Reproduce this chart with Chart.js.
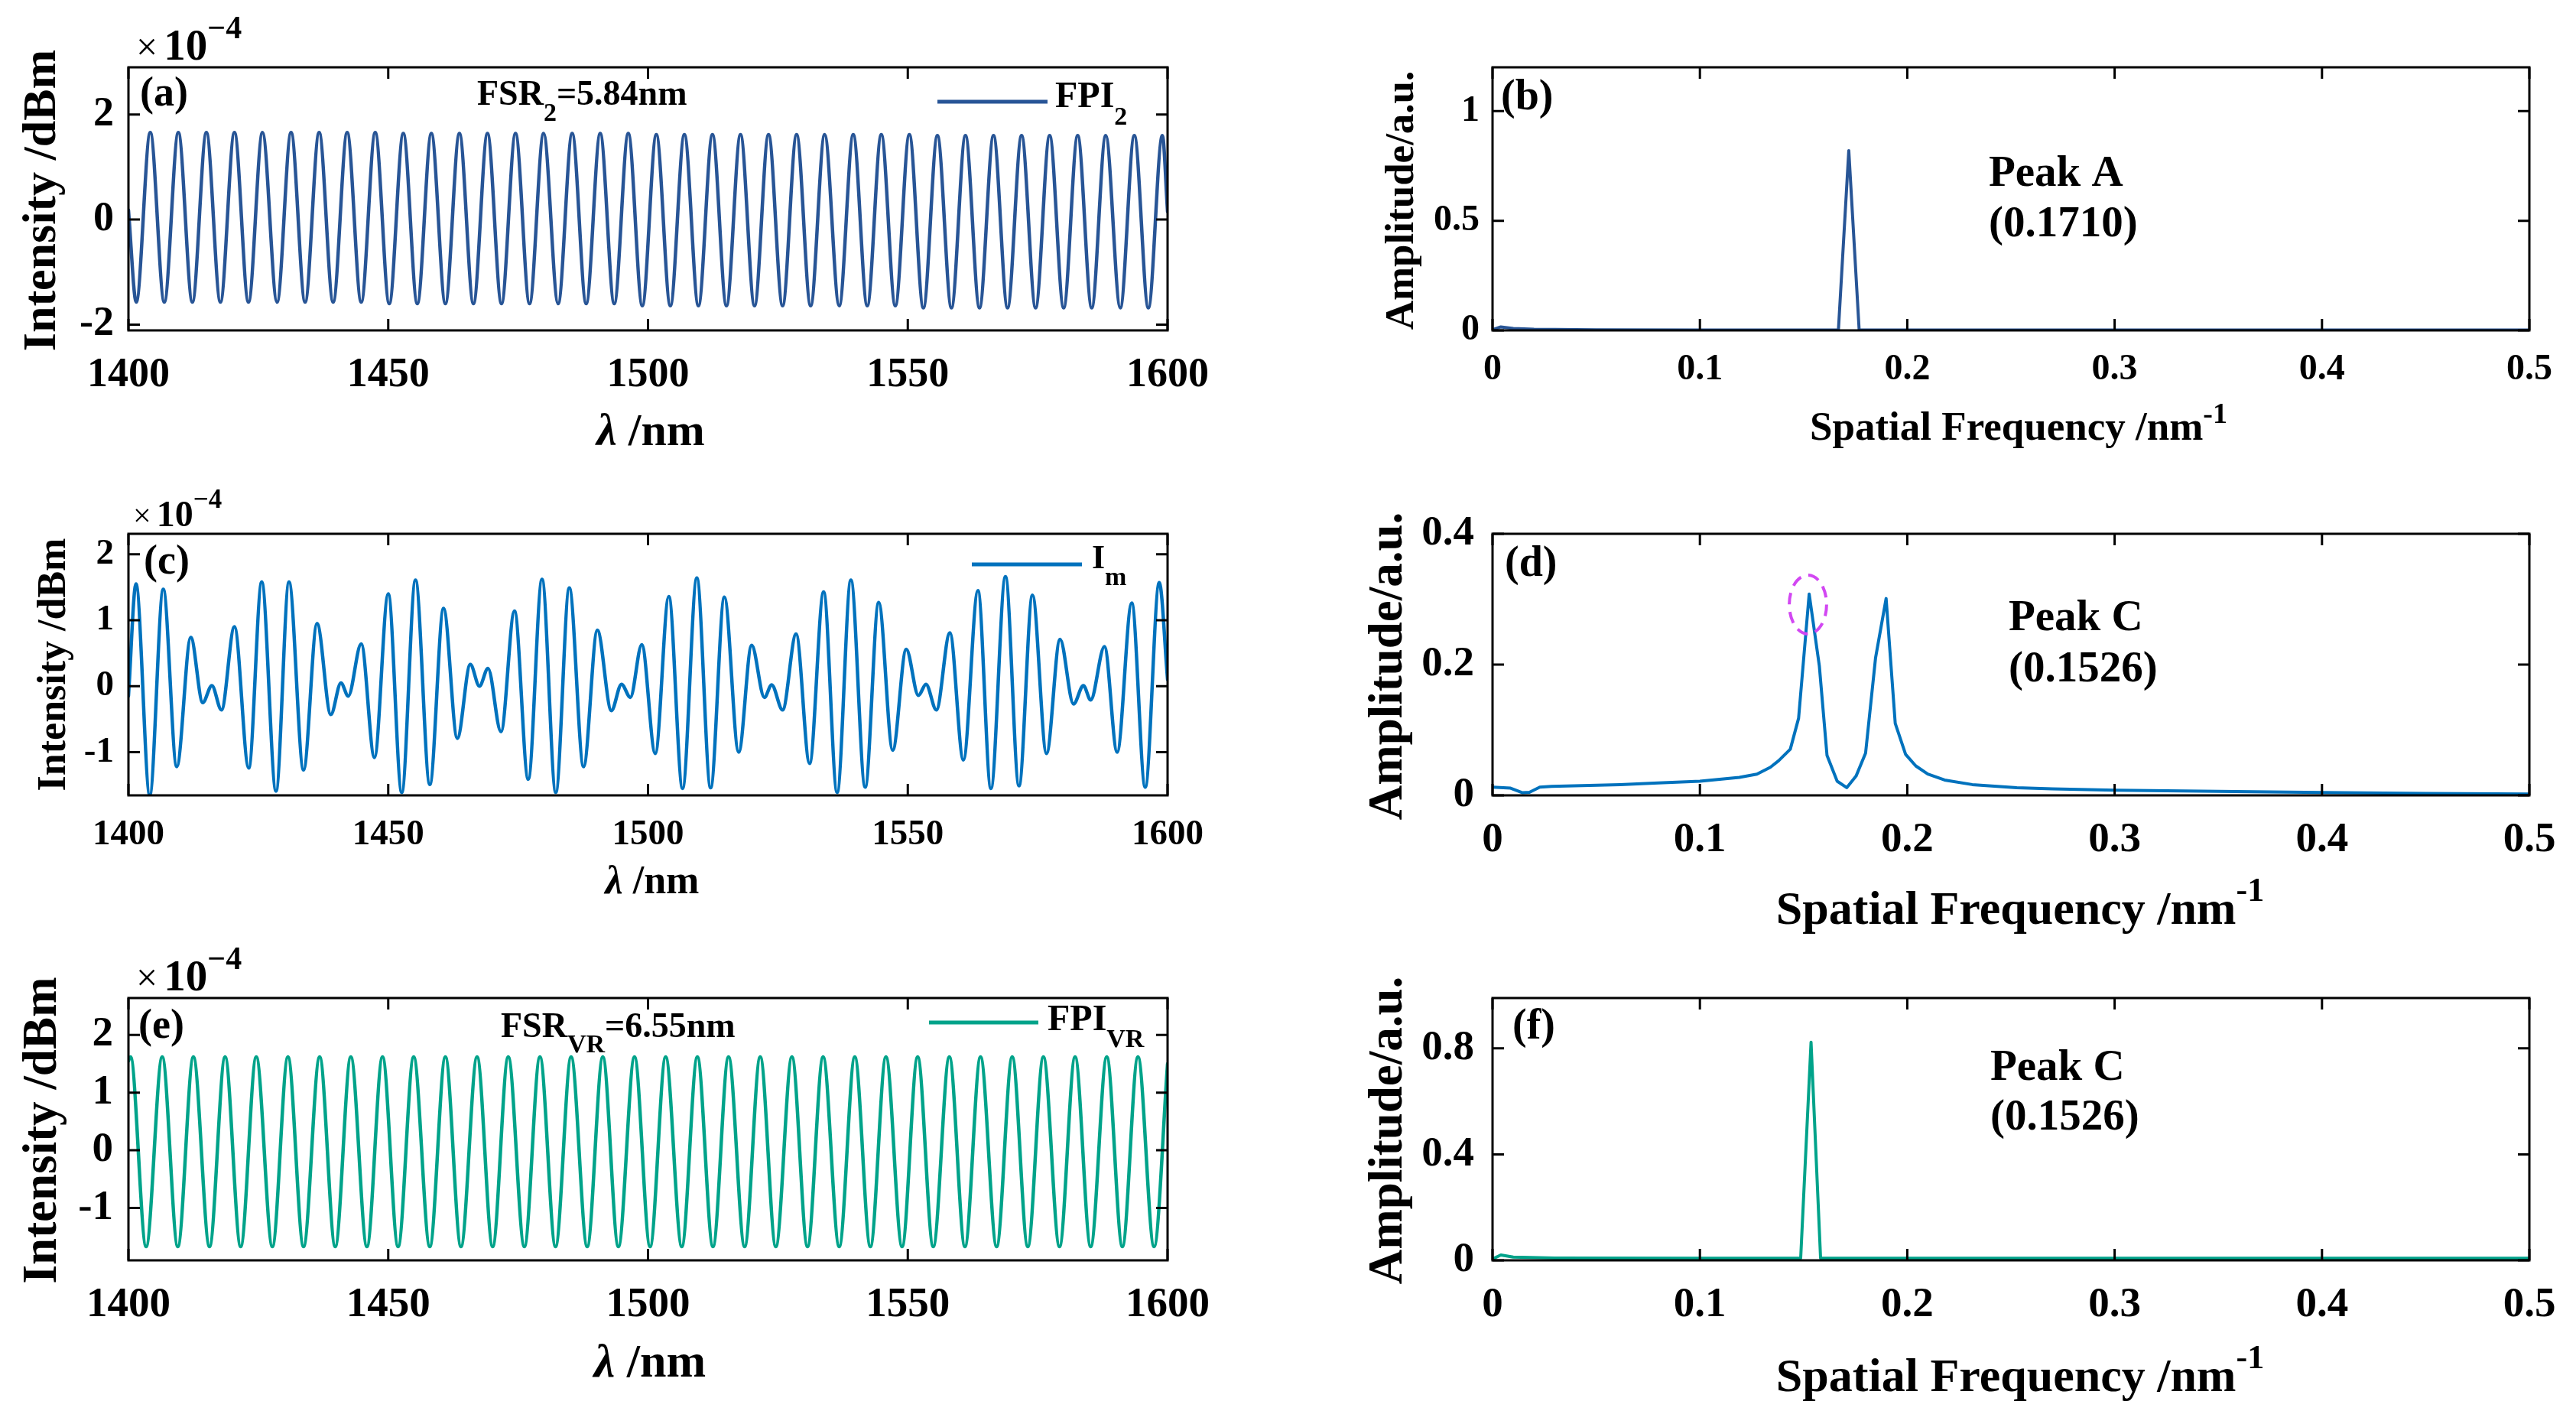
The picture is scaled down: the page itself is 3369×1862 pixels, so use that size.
<!DOCTYPE html>
<html><head><meta charset="utf-8">
<script src="https://cdn.jsdelivr.net/npm/chart.js@4.4.1/dist/chart.umd.min.js"></script>
<style>
html,body{margin:0;padding:0;background:#fff;}
#wrap{position:relative;width:3369px;height:1862px;overflow:hidden;background:#fff;}
canvas{position:absolute;}
</style></head><body><div id="wrap"></div>
<script>
// ---------------- DATA ----------------
// (a) FPI2 spectrum: wavelength (nm) of start, troughs/peaks, end; intensity (x1e-4)
const fpi2Wavelength = [1400, 1401.5, 1404.2, 1406.9, 1409.6, 1412.3, 1415.0, 1417.7, 1420.4, 1423.1, 1425.8, 1428.6, 1431.3, 1434.0, 1436.7, 1439.4, 1442.1, 1444.8, 1447.5, 1450.2, 1452.9, 1455.6, 1458.3, 1461.0, 1463.7, 1466.4, 1469.1, 1471.8, 1474.5, 1477.2, 1479.9, 1482.7, 1485.4, 1488.1, 1490.8, 1493.5, 1496.2, 1498.9, 1501.6, 1504.3, 1507.0, 1509.7, 1512.4, 1515.1, 1517.8, 1520.5, 1523.2, 1525.9, 1528.6, 1531.3, 1534.0, 1536.8, 1539.5, 1542.2, 1544.9, 1547.6, 1550.3, 1553.0, 1555.7, 1558.4, 1561.1, 1563.8, 1566.5, 1569.2, 1571.9, 1574.6, 1577.3, 1580.0, 1582.7, 1585.4, 1588.1, 1590.9, 1593.6, 1596.3, 1599.0, 1600];
const fpi2Intensity = [0.18,
  -1.57, 1.66, -1.57, 1.66, -1.57, 1.66, -1.57, 1.66, -1.57, 1.66, -1.57, 1.66, -1.57, 1.66, -1.57, 1.66, -1.57, 1.66,
  -1.60, 1.64, -1.60, 1.64, -1.60, 1.64, -1.60, 1.64, -1.60, 1.64, -1.60, 1.64, -1.60, 1.64, -1.60, 1.64, -1.60, 1.64,
  -1.64, 1.62, -1.64, 1.62, -1.64, 1.62, -1.64, 1.62, -1.64, 1.62, -1.64, 1.62, -1.64, 1.62, -1.64, 1.62, -1.64, 1.62, -1.64, 1.62,
  -1.68, 1.60, -1.68, 1.60, -1.68, 1.60, -1.68, 1.60, -1.68, 1.60, -1.68, 1.60, -1.68, 1.60, -1.68, 1.60, -1.68, 1.60,
  0.15];

// (b) FFT of FPI2
const fftAFreq = [0, 0.004, 0.01, 0.02, 0.05, 0.1, 0.1668, 0.1718, 0.1768, 0.2, 0.3, 0.4, 0.5];
const fftAAmp  = [0.003, 0.016, 0.009, 0.005, 0.003, 0.002, 0.002, 0.82, 0.002, 0.002, 0.002, 0.002, 0.002];

// (c) Im spectrum (extrema)
const imWavelength = [1400, 1401.45, 1404.1, 1406.7, 1409.3, 1412.0, 1414.3, 1416.05, 1417.9, 1420.4, 1423.15, 1425.65, 1428.4, 1430.9, 1433.7, 1436.3, 1438.95, 1440.9, 1442.3, 1444.8, 1447.35, 1450.0, 1452.6, 1455.25, 1458.0, 1460.65, 1463.3, 1465.8, 1467.55, 1469.2, 1471.7, 1474.3, 1476.95, 1479.6, 1482.25, 1484.85, 1487.6, 1490.25, 1492.95, 1494.9, 1496.6, 1498.8, 1501.4, 1504.0, 1506.65, 1509.4, 1512.05, 1514.7, 1517.45, 1519.95, 1522.4, 1523.8, 1525.9, 1528.5, 1531.1, 1533.8, 1536.4, 1539.05, 1541.8, 1544.4, 1547.1, 1549.7, 1552.05, 1553.5, 1555.5, 1558.1, 1560.7, 1563.5, 1566.0, 1568.8, 1571.4, 1574.0, 1576.7, 1579.3, 1581.9, 1583.8, 1585.2, 1587.85, 1590.3, 1593.1, 1595.7, 1598.4, 1600];
const imIntensity = [-0.15, 1.55, -1.65, 1.47, -1.22, 0.74, -0.25, 0.01, -0.36, 0.90, -1.24, 1.58, -1.59, 1.58, -1.27, 0.95, -0.43, 0.05, -0.15, 0.64, -1.08, 1.40, -1.61, 1.61, -1.49, 1.18, -0.79, 0.33, 0.00, 0.27, -0.69, 1.14, -1.41, 1.62, -1.61, 1.49, -1.22, 0.85, -0.37, 0.03, -0.17, 0.63, -1.02, 1.36, -1.55, 1.64, -1.54, 1.35, -1.00, 0.62, -0.17, 0.02, -0.36, 0.79, -1.17, 1.43, -1.61, 1.61, -1.53, 1.27, -0.97, 0.56, -0.14, 0.03, -0.36, 0.81, -1.12, 1.45, -1.55, 1.66, -1.51, 1.38, -1.02, 0.71, -0.27, 0.01, -0.21, 0.60, -1.00, 1.26, -1.53, 1.57, 0.10];

// (d) FFT of Im
const fftMFreq = [0, 0.0087, 0.0145, 0.0178, 0.0228, 0.0285, 0.0615, 0.08, 0.1, 0.119, 0.1275, 0.134, 0.138, 0.1436, 0.1476, 0.1527, 0.1576, 0.1613, 0.1662, 0.1708, 0.1753, 0.1799, 0.1847, 0.1898, 0.1942, 0.1992, 0.2041, 0.2099, 0.218, 0.2313, 0.2528, 0.27, 0.3, 0.35, 0.4, 0.45, 0.5];
const fftMAmp  = [0.0125, 0.011, 0.004, 0.0047, 0.0125, 0.0137, 0.0165, 0.019, 0.0216, 0.0275, 0.0325, 0.043, 0.053, 0.0706, 0.118, 0.308, 0.198, 0.061, 0.0216, 0.0118, 0.0294, 0.0647, 0.21, 0.301, 0.11, 0.0627, 0.045, 0.0325, 0.0235, 0.0165, 0.0118, 0.010, 0.008, 0.006, 0.0045, 0.003, 0.002];

// (e) FPI_VR spectrum (extrema)
const fpiVrWavelength = [1400, 1400.4, 1403.4, 1406.5, 1409.5, 1412.5, 1415.6, 1418.6, 1421.6, 1424.6, 1427.7, 1430.7, 1433.7, 1436.8, 1439.8, 1442.8, 1445.9, 1448.9, 1451.9, 1454.9, 1458.0, 1461.0, 1464.0, 1467.1, 1470.1, 1473.1, 1476.2, 1479.2, 1482.2, 1485.2, 1488.3, 1491.3, 1494.3, 1497.4, 1500.4, 1503.4, 1506.5, 1509.5, 1512.5, 1515.5, 1518.6, 1521.6, 1524.6, 1527.7, 1530.7, 1533.7, 1536.8, 1539.8, 1542.8, 1545.8, 1548.9, 1551.9, 1554.9, 1558.0, 1561.0, 1564.0, 1567.1, 1570.1, 1573.1, 1576.1, 1579.2, 1582.2, 1585.2, 1588.3, 1591.3, 1594.3, 1597.4, 1600];
const fpiVrIntensity = [1.55,
  1.62, -1.67, 1.62, -1.67, 1.62, -1.67, 1.62, -1.67, 1.62, -1.67, 1.62, -1.67, 1.62, -1.67, 1.62, -1.67,
  1.62, -1.67, 1.62, -1.67, 1.62, -1.67, 1.62, -1.67, 1.62, -1.67, 1.62, -1.67, 1.62, -1.67, 1.62, -1.67,
  1.62, -1.67, 1.62, -1.67, 1.62, -1.67, 1.62, -1.67, 1.62, -1.67, 1.62, -1.67, 1.62, -1.67, 1.62, -1.67,
  1.62, -1.67, 1.62, -1.67, 1.62, -1.67, 1.62, -1.67, 1.62, -1.67, 1.62, -1.67, 1.62, -1.67, 1.62, -1.67,
  1.62, -1.67,
  1.5];

// (f) FFT of FPI_VR
const fftVFreq = [0, 0.004, 0.01, 0.03, 0.1, 0.1486, 0.1536, 0.1582, 0.2, 0.3, 0.4, 0.5];
const fftVAmp  = [0.005, 0.02, 0.012, 0.009, 0.008, 0.008, 0.823, 0.008, 0.008, 0.008, 0.008, 0.008];

// tick values / labels
const wlTicks = [1400, 1450, 1500, 1550, 1600];
const wlTickLabels = ['1400', '1450', '1500', '1550', '1600'];
const freqTicks = [0, 0.1, 0.2, 0.3, 0.4, 0.5];
const freqTickLabels = ['0', '0.1', '0.2', '0.3', '0.4', '0.5'];
const yTicksA = [-2, 0, 2];          const yLabelsA = ['-2', '0', '2'];
const yTicksB = [0, 0.5, 1];         const yLabelsB = ['0', '0.5', '1'];
const yTicksC = [-1, 0, 1, 2];       const yLabelsC = ['-1', '0', '1', '2'];
const yTicksD = [0, 0.2, 0.4];       const yLabelsD = ['0', '0.2', '0.4'];
const yTicksE = [-1, 0, 1, 2];       const yLabelsE = ['-1', '0', '1', '2'];
const yTicksF = [0, 0.4, 0.8];       const yLabelsF = ['0', '0.4', '0.8'];

// dashed ellipse in (d), in data units
const peakMarkD = {cx: 0.1521, cy: 0.2918, rx: 0.0090, ry: 0.045};

// ---------------- LAYOUT / STYLE ----------------
const SERIF = '"Liberation Serif","Times New Roman",Times,serif';
const C_A = '#285596', C_C = '#0072BD', C_E = '#00A38A';
const wrap = document.getElementById('wrap');

function F(s, w){ return (w||'bold') + ' ' + s + 'px ' + SERIF; }

function drawRich(ctx, x, y, segs, align){
  let total = 0;
  segs.forEach(s => { ctx.font = F(s.s, s.w); s._w = ctx.measureText(s.t).width * (s.sx||1) + (s.gap||0); total += s._w; });
  let cx = align === 'center' ? x - total/2 : x;
  segs.forEach(s => {
    ctx.save(); ctx.font = F(s.s, s.w); ctx.fillStyle = '#000'; ctx.textBaseline = 'alphabetic'; ctx.textAlign = 'left';
    ctx.translate(cx, y + (s.dy||0)); ctx.scale(s.sx||1, 1); ctx.fillText(s.t, 0, 0); ctx.restore();
    cx += s._w;
  });
}

function expLabel(x, y, k){
  return {x: x, y: y, segs: [
    {t: '×', s: Math.round(50*k), w: 'normal', gap: Math.round(8*k)},
    {t: '10', s: Math.round(57*k)},
    {t: '\u22124', s: Math.round(42*k), dy: -Math.round(28*k)}
  ]};
}

const panels = [
 { id:'a', cx:0, cy:0, cw:1700, ch:620, plot:{l:168,t:88,r:1527,b:432},
   xs:fpi2Wavelength, ys:fpi2Intensity, color:C_A, smooth:true, lw:4.5,
   xMin:1400, xMax:1600, xTicks:wlTicks, xLabels:wlTickLabels,
   yMin:-2.11, yMax:2.90, yTicks:yTicksA, yLabels:yLabelsA, tf:54, xPad:27, yPad:19,
   texts:[
     {x:183, y:138, segs:[{t:'(a)', s:54}]},
     {x:624, y:137, segs:[{t:'FSR', s:46},{t:'2', s:34, dy:21},{t:'=5.84nm', s:46}]},
     {x:1380, y:140, segs:[{t:'FPI', s:48},{t:'2', s:34, dy:23}]},
     expLabel(178, 78, 1),
     {x:851, y:582, align:'center', segs:[{t:'λ', s:60, w:'italic bold'},{t:' /nm', s:60}]},
     {rot:true, x:72, y:262, segs:[{t:'Intensity /dBm', s:62}]}
   ],
   legend:[1226,133,1370,133] },
 { id:'b', cx:1700, cy:0, cw:1669, ch:620, plot:{l:1952,t:88,r:3308,b:432},
   xs:fftAFreq, ys:fftAAmp, color:C_A, smooth:false, lw:4,
   xMin:0, xMax:0.5, xTicks:freqTicks, xLabels:freqTickLabels,
   yMin:0, yMax:1.2, yTicks:yTicksB, yLabels:yLabelsB, tf:48, xPad:23, yPad:17,
   texts:[
     {x:1963, y:143, segs:[{t:'(b)', s:56}]},
     {x:2601, y:243, segs:[{t:'Peak A', s:57}]},
     {x:2601, y:309, segs:[{t:'(0.1710)', s:57}]},
     {x:2640, y:575, align:'center', segs:[{t:'Spatial Frequency /nm', s:53},{t:'-1', s:38, dy:-22}]},
     {rot:true, x:1848, y:262, segs:[{t:'Amplitude/a.u.', s:53}]}
   ] },
 { id:'c', cx:0, cy:620, cw:1700, ch:610, plot:{l:168,t:698,r:1527,b:1040},
   xs:imWavelength, ys:imIntensity, color:C_C, smooth:true, lw:4.5,
   xMin:1400, xMax:1600, xTicks:wlTicks, xLabels:wlTickLabels,
   yMin:-1.655, yMax:2.31, yTicks:yTicksC, yLabels:yLabelsC, tf:47, xPad:24, yPad:19,
   texts:[
     {x:188, y:750, segs:[{t:'(c)', s:54}]},
     {x:1428, y:743, segs:[{t:'I', s:44},{t:'m', s:34, dy:22}]},
     expLabel(174, 688, 0.84),
     {x:853, y:1168, align:'center', segs:[{t:'λ', s:52, w:'italic bold'},{t:' /nm', s:52}]},
     {rot:true, x:85, y:869, segs:[{t:'Intensity /dBm', s:52}]}
   ],
   legend:[1271,738,1415,738] },
 { id:'d', cx:1700, cy:620, cw:1669, ch:610, plot:{l:1952,t:698,r:3308,b:1040},
   xs:fftMFreq, ys:fftMAmp, color:C_C, smooth:false, lw:4,
   xMin:0, xMax:0.5, xTicks:freqTicks, xLabels:freqTickLabels,
   yMin:0, yMax:0.4, yTicks:yTicksD, yLabels:yLabelsD, tf:55, xPad:26, yPad:24,
   texts:[
     {x:1968, y:753, segs:[{t:'(d)', s:56}]},
     {x:2627, y:824, segs:[{t:'Peak C', s:57}]},
     {x:2627, y:891, segs:[{t:'(0.1526)', s:57}]},
     {x:2642, y:1208, align:'center', segs:[{t:'Spatial Frequency /nm', s:62},{t:'-1', s:44, dy:-30}]},
     {rot:true, x:1833, y:871, segs:[{t:'Amplitude/a.u.', s:63}]}
   ],
   ellipse: peakMarkD },
 { id:'e', cx:0, cy:1230, cw:1700, ch:632, plot:{l:168,t:1305,r:1527,b:1648},
   xs:fpiVrWavelength, ys:fpiVrIntensity, color:C_E, smooth:true, lw:4.5,
   xMin:1400, xMax:1600, xTicks:wlTicks, xLabels:wlTickLabels,
   yMin:-1.91, yMax:2.64, yTicks:yTicksE, yLabels:yLabelsE, tf:55, xPad:26, yPad:20,
   texts:[
     {x:181, y:1357, segs:[{t:'(e)', s:54}]},
     {x:655, y:1356, segs:[{t:'FSR', s:46},{t:'VR', s:34, dy:20},{t:'=6.55nm', s:46}]},
     {x:1370, y:1347, segs:[{t:'FPI', s:48},{t:'VR', s:34, dy:22}]},
     expLabel(178, 1295, 1),
     {x:850, y:1800, align:'center', segs:[{t:'λ', s:62, w:'italic bold'},{t:' /nm', s:62}]},
     {rot:true, x:73, y:1478, segs:[{t:'Intensity /dBm', s:63}]}
   ],
   legend:[1215,1337,1358,1337] },
 { id:'f', cx:1700, cy:1230, cw:1669, ch:632, plot:{l:1952,t:1305,r:3308,b:1648},
   xs:fftVFreq, ys:fftVAmp, color:C_E, smooth:false, lw:4,
   xMin:0, xMax:0.5, xTicks:freqTicks, xLabels:freqTickLabels,
   yMin:0, yMax:0.99, yTicks:yTicksF, yLabels:yLabelsF, tf:55, xPad:26, yPad:24,
   texts:[
     {x:1978, y:1358, segs:[{t:'(f)', s:56}]},
     {x:2603, y:1412, segs:[{t:'Peak C', s:57}]},
     {x:2603, y:1477, segs:[{t:'(0.1526)', s:57}]},
     {x:2642, y:1819, align:'center', segs:[{t:'Spatial Frequency /nm', s:62},{t:'-1', s:44, dy:-30}]},
     {rot:true, x:1833, y:1478, segs:[{t:'Amplitude/a.u.', s:63}]}
   ] }
];

function framePlugin(p){
  return {
    id: 'frame_' + p.id,
    afterDraw(chart){
      const ctx = chart.ctx, a = chart.chartArea, sx = chart.scales.x, sy = chart.scales.y;
      ctx.save();
      if (p.ellipse){
        const e = p.ellipse;
        const ex = sx.getPixelForValue(e.cx), ey = sy.getPixelForValue(e.cy);
        const rx = Math.abs(sx.getPixelForValue(e.cx + e.rx) - ex), ry = Math.abs(sy.getPixelForValue(e.cy + e.ry) - ey);
        ctx.strokeStyle = '#D247F2'; ctx.lineWidth = 4; ctx.setLineDash([15, 10]);
        ctx.beginPath(); ctx.ellipse(ex, ey, rx, ry, 0, 0, Math.PI*2); ctx.stroke();
        ctx.setLineDash([]);
      }
      ctx.strokeStyle = '#000'; ctx.lineWidth = 3;
      ctx.strokeRect(a.left, a.top, a.right - a.left, a.bottom - a.top);
      const TL = 15;
      ctx.lineWidth = 3; ctx.beginPath();
      sx.ticks.forEach(t => { const px = sx.getPixelForValue(t.value);
        ctx.moveTo(px, a.bottom); ctx.lineTo(px, a.bottom - TL);
        ctx.moveTo(px, a.top); ctx.lineTo(px, a.top + TL); });
      sy.ticks.forEach(t => { const py = sy.getPixelForValue(t.value);
        ctx.moveTo(a.left, py); ctx.lineTo(a.left + TL, py);
        ctx.moveTo(a.right, py); ctx.lineTo(a.right - TL, py); });
      ctx.stroke();
      if (p.legend){
        const L = p.legend;
        ctx.strokeStyle = p.color; ctx.lineWidth = 5;
        ctx.beginPath(); ctx.moveTo(L[0]-p.cx, L[1]-p.cy); ctx.lineTo(L[2]-p.cx, L[3]-p.cy); ctx.stroke();
      }
      p.texts.forEach(t => {
        if (t.rot){
          ctx.save(); ctx.translate(t.x - p.cx, t.y - p.cy); ctx.rotate(-Math.PI/2);
          drawRich(ctx, 0, 0, t.segs, 'center'); ctx.restore();
        } else {
          drawRich(ctx, t.x - p.cx, t.y - p.cy, t.segs, t.align);
        }
      });
      ctx.restore();
    }
  };
}

function makeChart(p){
  const c = document.createElement('canvas');
  c.width = p.cw; c.height = p.ch;
  c.style.left = p.cx + 'px'; c.style.top = p.cy + 'px';
  c.style.width = p.cw + 'px'; c.style.height = p.ch + 'px';
  wrap.appendChild(c);
  const yW = p.plot.l - p.cx, xH = p.cy + p.ch - p.plot.b;
  const tickFont = {family: SERIF, size: p.tf, weight: 'bold'};
  return new Chart(c, {
    type: 'line',
    data: { datasets: [{
      data: p.xs.map((x, i) => ({x: x, y: p.ys[i]})),
      borderColor: p.color, borderWidth: p.lw, pointRadius: 0, fill: false,
      tension: p.smooth ? 0.4 : 0,
      cubicInterpolationMode: p.smooth ? 'monotone' : 'default',
      borderJoinStyle: 'round', borderCapStyle: 'round'
    }]},
    options: {
      responsive: false, animation: false, devicePixelRatio: 1,
      layout: { padding: { left: 0, top: p.plot.t - p.cy, right: p.cx + p.cw - p.plot.r, bottom: 0 } },
      plugins: { legend: {display: false}, tooltip: {enabled: false} },
      scales: {
        x: { type: 'linear', min: p.xMin, max: p.xMax,
             afterFit: s => { s.height = xH; },
             afterBuildTicks: s => { s.ticks = p.xTicks.map(v => ({value: v})); },
             grid: {display: false, drawTicks: false}, border: {display: false},
             ticks: { font: tickFont, color: '#000', padding: p.xPad, autoSkip: false, maxRotation: 0,
                      callback: (v, i) => p.xLabels[i] } },
        y: { type: 'linear', min: p.yMin, max: p.yMax,
             afterFit: s => { s.width = yW; },
             afterBuildTicks: s => { s.ticks = p.yTicks.map(v => ({value: v})); },
             grid: {display: false, drawTicks: false}, border: {display: false},
             ticks: { font: tickFont, color: '#000', padding: p.yPad, autoSkip: false,
                      callback: (v, i) => p.yLabels[i] } }
      }
    },
    plugins: [framePlugin(p)]
  });
}

panels.forEach(makeChart);
</script></body></html>
